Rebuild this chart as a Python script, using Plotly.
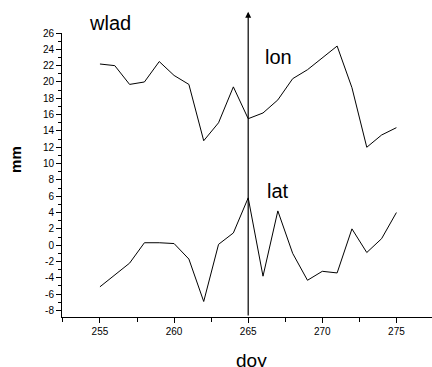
import plotly.graph_objects as go

# ---- data ----
doy = list(range(255, 276))
lon = [22.2, 22.0, 19.7, 20.0, 22.5, 20.8, 19.7, 12.8, 15.0, 19.4, 15.5,
       16.2, 17.8, 20.4, 21.5, 23.0, 24.4, 19.3, 12.0, 13.5, 14.4]
lat = [-5.1, -3.7, -2.2, 0.3, 0.3, 0.2, -1.7, -6.9, 0.1, 1.5, 5.8,
       -3.8, 4.2, -1.0, -4.3, -3.2, -3.4, 2.0, -0.9, 0.8, 4.0]
y_tick_vals = list(range(-8, 27, 2))
y_tick_text = [str(v) for v in y_tick_vals]
x_tick_vals = [255, 260, 265, 270, 275]
x_tick_text = [str(v) for v in x_tick_vals]
marker_day = 265
x_range = [252.44, 277.4]
y_range = [-8.8, 26]

FONT = "Liberation Sans, Arial, sans-serif"

fig = go.Figure()
fig.add_trace(go.Scatter(x=doy, y=lon, mode="lines", name="lon",
                         line=dict(color="black", width=1)))
fig.add_trace(go.Scatter(x=doy, y=lat, mode="lines", name="lat",
                         line=dict(color="black", width=1)))

fig.update_layout(
    width=432, height=367, autosize=False,
    margin=dict(l=62, r=0, t=33, b=50),
    paper_bgcolor="white", plot_bgcolor="white",
    showlegend=False,
    font=dict(family=FONT, color="black", size=10),
    xaxis=dict(range=x_range, showgrid=False, zeroline=False,
               showline=True, linecolor="black", linewidth=1,
               ticks="outside", ticklen=5, tickwidth=1, tickcolor="black",
               tickvals=x_tick_vals, ticktext=x_tick_text,
               tickfont=dict(size=10, family=FONT),
               minor=dict(dtick=2.5, tick0=252.5, ticks="outside", ticklen=4,
                          tickcolor="black", showgrid=False)),
    yaxis=dict(range=y_range, showgrid=False, zeroline=False,
               showline=True, linecolor="black", linewidth=1,
               ticks="outside", ticklen=5, tickwidth=1, tickcolor="black",
               tickvals=y_tick_vals, ticktext=y_tick_text,
               tickfont=dict(size=10, family=FONT),
               minor=dict(dtick=1, tick0=-9, ticks="outside", ticklen=3,
                          tickcolor="black", showgrid=False)),
)

center = dict(xanchor="center", yanchor="middle", showarrow=False,
              xref="paper", yref="paper")
annotations = [
    dict(text="wlad", x=0.13, y=1.035, font=dict(size=20, family=FONT), **center),
    dict(text="lon", x=0.584, y=0.917, font=dict(size=20, family=FONT), **center),
    dict(text="lat", x=0.584, y=0.442, font=dict(size=20, family=FONT), **center),
    dict(text="mm", x=0, y=0.553, xshift=-46, textangle=-90,
         font=dict(size=15, family=FONT, weight="bold"), **center),
    dict(text="doy", x=0.5, y=0, xref="paper", yref="paper", xshift=4,
         yshift=-31, xanchor="center", yanchor="top", showarrow=False,
         font=dict(size=19, family=FONT)),
    dict(text="", x=marker_day, y=28.6, ax=marker_day, ay=y_range[0],
         xref="x", yref="y", axref="x", ayref="y",
         showarrow=True, arrowhead=2, arrowsize=1, arrowwidth=1.2,
         arrowcolor="black", standoff=0, startstandoff=0),
]
fig.update_layout(annotations=annotations)

fig.write_html("out.html")
